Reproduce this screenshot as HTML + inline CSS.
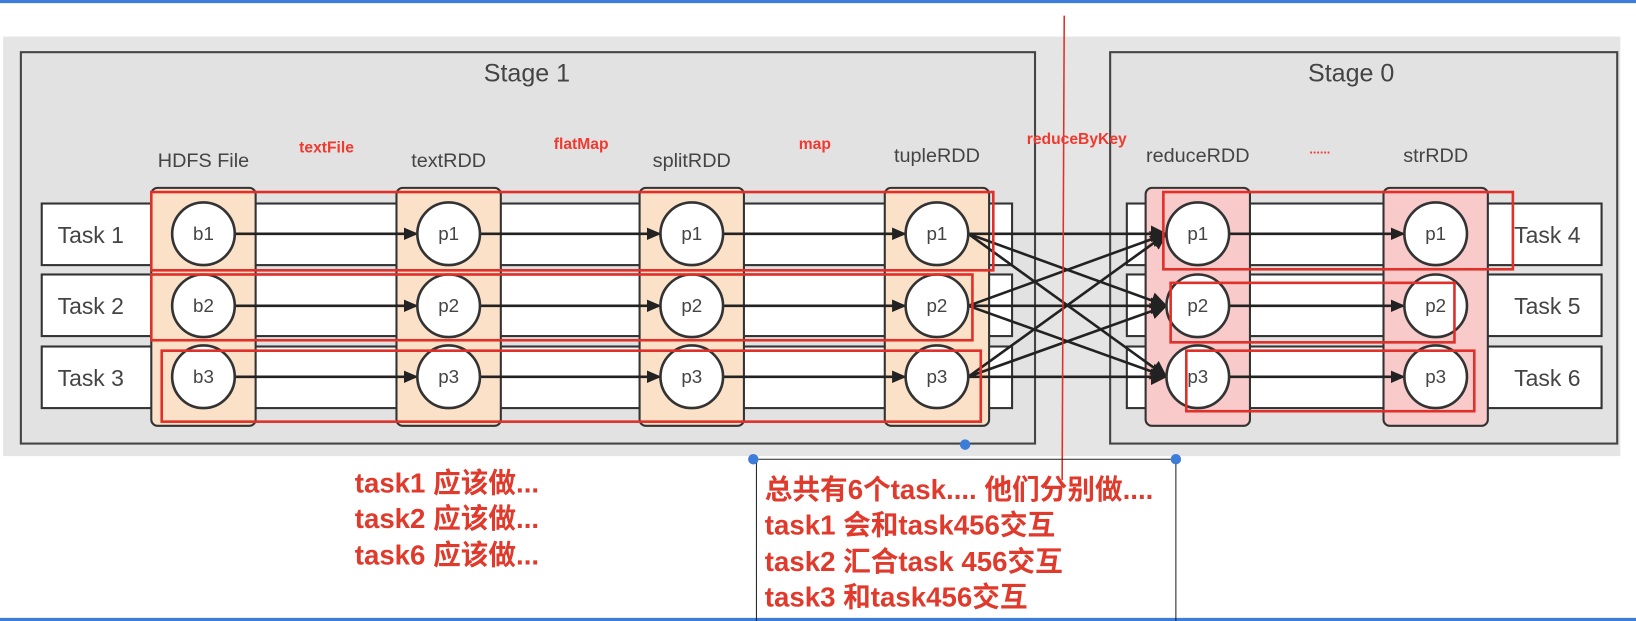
<!DOCTYPE html>
<html><head><meta charset="utf-8"><style>
html,body{margin:0;padding:0;background:#fff;width:1636px;height:621px;overflow:hidden}
svg{display:block}
</style></head><body>
<svg width="1636" height="621" viewBox="0 0 1568 595" preserveAspectRatio="none" xmlns="http://www.w3.org/2000/svg">
<defs>
<marker id="ah" markerWidth="14" markerHeight="12" refX="13" refY="6" orient="auto" markerUnits="userSpaceOnUse"><path d="M0,0 L14,6 L0,12 z" fill="#222"/></marker>
<marker id="ah2" markerWidth="16" markerHeight="16" refX="15" refY="8" orient="auto" markerUnits="userSpaceOnUse"><path d="M0,0 L16,8 L0,16 z" fill="#222"/></marker>
</defs>
<rect x="0" y="0" width="1568" height="3" fill="#3b7dd8"/>
<rect x="0" y="592" width="1568" height="3" fill="#3b7dd8"/>
<rect x="3" y="35" width="1550" height="402" fill="#e5e5e5"/>
<rect x="20" y="50" width="972" height="375" fill="#e2e2e2" stroke="#444" stroke-width="2"/>
<rect x="1064" y="50" width="486" height="375" fill="#e2e2e2" stroke="#444" stroke-width="2"/>
<g font-family="Liberation Sans, DejaVu Sans, sans-serif" fill="#444" text-anchor="middle">
<text x="505" y="78" font-size="24">Stage 1</text>
<text x="1295" y="78" font-size="24">Stage 0</text>
<text x="195" y="160" font-size="19">HDFS File</text>
<text x="430" y="160" font-size="19">textRDD</text>
<text x="663" y="160" font-size="19">splitRDD</text>
<text x="898" y="155" font-size="19">tupleRDD</text>
<text x="1148" y="155" font-size="19">reduceRDD</text>
<text x="1376" y="155" font-size="19">strRDD</text>
</g>
<g fill="#fff" stroke="#333" stroke-width="2">
<rect x="40" y="195" width="930" height="59"/>
<rect x="40" y="263" width="930" height="59"/>
<rect x="40" y="332" width="930" height="59"/>
<rect x="1080" y="195" width="455" height="59"/>
<rect x="1080" y="263" width="455" height="59"/>
<rect x="1080" y="332" width="455" height="59"/>
</g>
<g stroke="#333" stroke-width="2">
<rect x="145" y="180" width="100" height="228" rx="6" fill="#fbe1c8"/>
<rect x="380" y="180" width="100" height="228" rx="6" fill="#fbe1c8"/>
<rect x="613" y="180" width="100" height="228" rx="6" fill="#fbe1c8"/>
<rect x="848" y="180" width="100" height="228" rx="6" fill="#fbe1c8"/>
<rect x="1098" y="180" width="100" height="228" rx="6" fill="#f8caca"/>
<rect x="1326" y="180" width="100" height="228" rx="6" fill="#f8caca"/>
</g>
<g font-family="Liberation Sans, DejaVu Sans, sans-serif" font-size="22" fill="#444" text-anchor="middle">
<text x="87" y="233">Task 1</text><text x="87" y="301">Task 2</text><text x="87" y="370">Task 3</text>
<text x="1483" y="233">Task 4</text><text x="1483" y="301">Task 5</text><text x="1483" y="370">Task 6</text>
</g>
<g stroke="#222" stroke-width="2.5" marker-end="url(#ah)">
<line x1="225" y1="224" x2="400" y2="224"/><line x1="225" y1="293" x2="400" y2="293"/><line x1="225" y1="361" x2="400" y2="361"/>
<line x1="460" y1="224" x2="633" y2="224"/><line x1="460" y1="293" x2="633" y2="293"/><line x1="460" y1="361" x2="633" y2="361"/>
<line x1="693" y1="224" x2="868" y2="224"/><line x1="693" y1="293" x2="868" y2="293"/><line x1="693" y1="361" x2="868" y2="361"/>
<line x1="1178" y1="224" x2="1346" y2="224"/><line x1="1178" y1="293" x2="1346" y2="293"/><line x1="1178" y1="361" x2="1346" y2="361"/>
</g>
<g stroke="#222" stroke-width="2.5" marker-end="url(#ah2)">
<line x1="928" y1="224" x2="1118" y2="224"/><line x1="928" y1="224" x2="1118" y2="293"/><line x1="928" y1="224" x2="1118" y2="361"/>
<line x1="928" y1="293" x2="1118" y2="224"/><line x1="928" y1="293" x2="1118" y2="293"/><line x1="928" y1="293" x2="1118" y2="361"/>
<line x1="928" y1="361" x2="1118" y2="224"/><line x1="928" y1="361" x2="1118" y2="293"/><line x1="928" y1="361" x2="1118" y2="361"/>
</g>
<g fill="#fff" stroke="#333" stroke-width="2.5">
<circle cx="195" cy="224" r="30"/><circle cx="195" cy="293" r="30"/><circle cx="195" cy="361" r="30"/>
<circle cx="430" cy="224" r="30"/><circle cx="430" cy="293" r="30"/><circle cx="430" cy="361" r="30"/>
<circle cx="663" cy="224" r="30"/><circle cx="663" cy="293" r="30"/><circle cx="663" cy="361" r="30"/>
<circle cx="898" cy="224" r="30"/><circle cx="898" cy="293" r="30"/><circle cx="898" cy="361" r="30"/>
<circle cx="1148" cy="224" r="30"/><circle cx="1148" cy="293" r="30"/><circle cx="1148" cy="361" r="30"/>
<circle cx="1376" cy="224" r="30"/><circle cx="1376" cy="293" r="30"/><circle cx="1376" cy="361" r="30"/>
</g>
<g font-family="Liberation Sans, DejaVu Sans, sans-serif" font-size="18" fill="#444" text-anchor="middle">
<text x="195" y="230">b1</text><text x="195" y="299">b2</text><text x="195" y="367">b3</text>
<text x="430" y="230">p1</text><text x="430" y="299">p2</text><text x="430" y="367">p3</text>
<text x="663" y="230">p1</text><text x="663" y="299">p2</text><text x="663" y="367">p3</text>
<text x="898" y="230">p1</text><text x="898" y="299">p2</text><text x="898" y="367">p3</text>
<text x="1148" y="230">p1</text><text x="1148" y="299">p2</text><text x="1148" y="367">p3</text>
<text x="1376" y="230">p1</text><text x="1376" y="299">p2</text><text x="1376" y="367">p3</text>
</g>
<g fill="none" stroke="#e0302a" stroke-width="2.5">
<rect x="145" y="184" width="807" height="75"/>
<rect x="145" y="263" width="787" height="63"/>
<rect x="155" y="336" width="785" height="68"/>
<rect x="1115" y="184" width="335" height="74"/>
<rect x="1122" y="271" width="272" height="57"/>
<rect x="1137" y="336" width="276" height="58"/>
</g>
<line x1="1020" y1="15" x2="1018" y2="460" stroke="#e0302a" stroke-width="1.5"/>
<g font-family="Liberation Sans, DejaVu Sans, sans-serif" font-size="15" font-weight="bold" fill="#f03a30" text-anchor="middle">
<text x="313" y="146">textFile</text>
<text x="557" y="143">flatMap</text>
<text x="781" y="143">map</text>
<text x="1032" y="138">reduceByKey</text>
<text x="1265" y="147" font-size="12">......</text>
</g>
<polyline points="725,595 725,440 1127,440 1127,595" fill="none" stroke="#222" stroke-width="1"/>
<circle cx="722" cy="440" r="5" fill="#3b7dd8"/><circle cx="1127" cy="440" r="5" fill="#3b7dd8"/><circle cx="925" cy="426" r="5" fill="#3b7dd8"/>
<g font-family="Liberation Sans, Noto Sans CJK SC, sans-serif" font-size="26.5" font-weight="bold" fill="#e03a2c">
<text x="340" y="472">task1 应该做...</text>
<text x="340" y="506">task2 应该做...</text>
<text x="340" y="541">task6 应该做...</text>
<text x="733" y="478">总共有6个task.... 他们分别做....</text>
<text x="733" y="512">task1 会和task456交互</text>
<text x="733" y="547">task2 汇合task 456交互</text>
<text x="733" y="581">task3 和task456交互</text>
</g>
</svg>
</body></html>
